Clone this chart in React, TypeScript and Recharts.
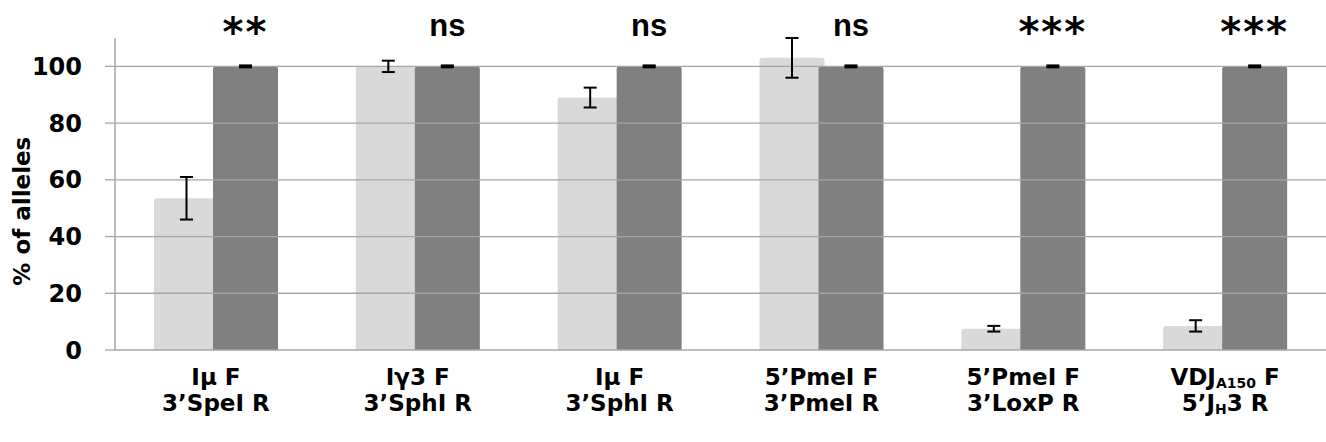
import React from 'react';
import { BarChart, Bar, XAxis, YAxis, ReferenceLine, ErrorBar, LabelList } from 'recharts';

const line1 = ['Iμ F', 'Iγ3 F', 'Iμ F', '5’PmeI F', '5’PmeI F', 'VDJ_{A150} F'];
const line2 = ['3’SpeI R', '3’SphI R', '3’SphI R', '3’PmeI R', '3’LoxP R', '5’J_{H}3 R'];
const lightValues = [53.5, 100, 89, 103, 7.5, 8.5];
const lightErrors = [7.5, 2, 3.5, 7, 1, 2];
const darkValues = [100, 100, 100, 100, 100, 100];
const darkErrors = [0.25, 0.25, 0.25, 0.25, 0.25, 0.25];
const sigLabels = ['**', 'ns', 'ns', 'ns', '***', '***'];
const yTicks = [0, 20, 40, 60, 80, 100];

const data = line1.map((l, i) => ({
  name: `${l} ${line2[i]}`,
  light: lightValues[i],
  lightErr: lightErrors[i],
  dark: darkValues[i],
  darkErr: darkErrors[i],
}));

const FONT = '"DejaVu Sans", sans-serif';

function rich(s: string) {
  const parts = s.split(/_\{([^}]*)\}/);
  const out: React.ReactNode[] = [];
  parts.forEach((p, i) => {
    if (i % 2 === 1) {
      out.push(<tspan key={i} fontSize={14} dy={3}>{p}</tspan>);
    } else if (p.length) {
      out.push(<tspan key={i} dy={i > 0 ? -3 : 0}>{p}</tspan>);
    }
  });
  return out;
}

const CatTick = (props: any) => {
  const { x, y, index } = props;
  return (
    <g transform={`translate(${x},${y})`}>
      <text textAnchor="middle" fontSize={23} fontWeight="bold" fontFamily={FONT} fill="#000">
        <tspan x={0} y={35}>{rich(line1[index])}</tspan>
      </text>
      <text textAnchor="middle" fontSize={23} fontWeight="bold" fontFamily={FONT} fill="#000">
        <tspan x={0} y={61}>{rich(line2[index])}</tspan>
      </text>
    </g>
  );
};

const ValTick = (props: any) => {
  const { x, y, payload } = props;
  return (
    <text x={x} y={y} dy="0.36em" textAnchor="end" fontSize={24} fontWeight="bold" fontFamily={FONT} fill="#000">
      {payload.value}
    </text>
  );
};

const SigLabel = (props: any) => {
  const { x, y, width, index } = props;
  const s = sigLabels[index];
  const cx = x + width / 2;
  if (s.startsWith('*')) {
    return (
      <text x={cx} y={y - 20} textAnchor="middle" fontSize={40} fontWeight="bold" fontFamily={FONT} fill="#000" letterSpacing={2}>
        {s}
      </text>
    );
  }
  return (
    <text x={cx} y={y - 30} textAnchor="middle" fontSize={31} fontWeight="bold" fontFamily={'"Liberation Sans", sans-serif'} fill="#000">
      {s}
    </text>
  );
};

const YLabel = (props: any) => {
  const { viewBox } = props;
  const cx = viewBox.x + 30;
  const cy = viewBox.y + viewBox.height * 0.555;
  return (
    <text x={cx} y={cy} transform={`rotate(-90, ${cx}, ${cy})`} textAnchor="middle" fontSize={23} fontWeight="bold" fontFamily={FONT} fill="#000">
      % of alleles
    </text>
  );
};

export default function App() {
  return (
    <div style={{ position: 'absolute', left: 0, top: 0, background: '#fff' }}>
      <BarChart
        width={1326}
        height={442}
        data={data}
        margin={{ top: 38, right: 0, bottom: 0, left: 0 }}
        barSize={65}
        barGap={-6}
      >
        {yTicks.filter((t) => t > 0).map((t) => (
          <ReferenceLine key={t} y={t} stroke="#a6a6a6" strokeWidth={1.3} />
        ))}
        <XAxis
          dataKey="name"
          height={92}
          tickLine={false}
          tickSize={0}
          tickMargin={0}
          axisLine={{ stroke: '#a6a6a6', strokeWidth: 1.5 }}
          tick={<CatTick />}
          interval={0}
        />
        <YAxis
          width={115}
          domain={[0, 110]}
          ticks={yTicks}
          tickSize={10}
          tickMargin={23}
          tickLine={{ stroke: '#a6a6a6', strokeWidth: 1.3 }}
          axisLine={{ stroke: '#a6a6a6', strokeWidth: 1.5 }}
          tick={<ValTick />}
          label={<YLabel />}
        />
        <Bar dataKey="light" fill="#d9d9d9" radius={[3, 3, 0, 0]} isAnimationActive={false}>
          <ErrorBar dataKey="lightErr" width={6.5} stroke="#000" strokeWidth={2} />
        </Bar>
        <Bar dataKey="dark" fill="#808080" radius={[3, 3, 0, 0]} isAnimationActive={false}>
          <ErrorBar dataKey="darkErr" width={6.5} stroke="#000" strokeWidth={2.5} />
          <LabelList dataKey="dark" content={<SigLabel />} />
        </Bar>
      </BarChart>
    </div>
  );
}
